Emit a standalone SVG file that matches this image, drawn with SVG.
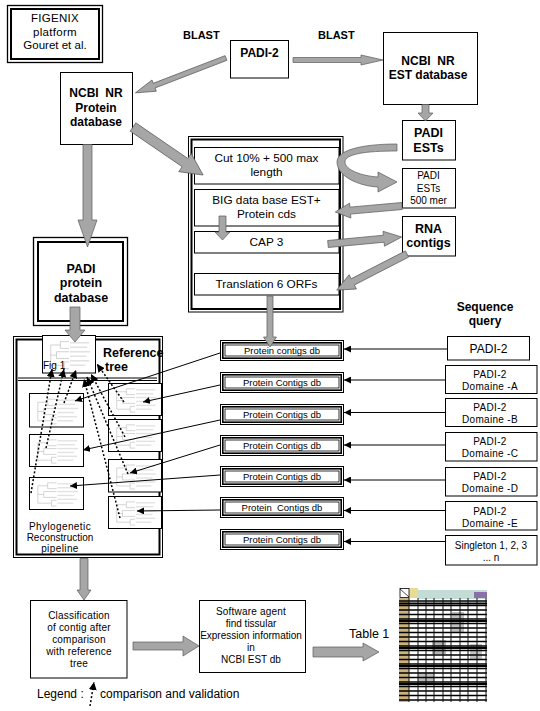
<svg xmlns="http://www.w3.org/2000/svg" width="540" height="711" viewBox="0 0 540 711">
<style>
.t{font-family:"Liberation Sans",Arial,sans-serif;fill:#000}
.b{font-weight:bold}
.box{fill:#fff;stroke:#000;stroke-width:1}
.thick{fill:none;stroke:#000;stroke-width:2}
.dbm{fill:none;stroke:#000;stroke-width:1.6}
.dbi{fill:#fff;stroke:#000;stroke-width:0.8}
.ga{fill:#a6a6a6;stroke:#5a5a5a;stroke-width:0.7}
.ln{stroke:#000;stroke-width:1;fill:none;marker-end:url(#ah)}
.dl{stroke:#000;stroke-width:1.5;fill:none;stroke-dasharray:2 2;marker-end:url(#ahd)}
.sub{fill:#fff;stroke:#000;stroke-width:1}
</style>
<defs>
<marker id="ah" viewBox="0 0 10 10" refX="10" refY="5" markerWidth="7" markerHeight="7" markerUnits="userSpaceOnUse" orient="auto"><path d="M0,0 L10,5 L0,10 z" fill="#000"/></marker>
<marker id="ahd" viewBox="0 0 10 10" refX="10" refY="5" markerWidth="8" markerHeight="8" markerUnits="userSpaceOnUse" orient="auto"><path d="M0,0 L10,5 L0,10 z" fill="#000"/></marker>
<symbol id="thumb" viewBox="0 0 54 32" preserveAspectRatio="none">
<g stroke="#e2e2e2" stroke-width="1.4">
<line x1="28" y1="6" x2="48" y2="6"/><line x1="28" y1="10" x2="46" y2="10"/><line x1="28" y1="14" x2="49" y2="14"/><line x1="28" y1="18" x2="45" y2="18"/><line x1="28" y1="22" x2="48" y2="22"/><line x1="28" y1="26" x2="44" y2="26"/>
</g>
<g stroke="#c9c9c9" stroke-width="0.8" fill="none">
<path d="M8,8 V26 M8,8 H18 M8,17 H14 M8,26 H22 M18,5 V11 M18,5 H27 M18,11 H27 M14,14 V20 M14,14 H27 M14,20 H27 M22,23 V29 M22,23 H27 M22,29 H27"/>
</g>
</symbol>
</defs>

<g id="figenix">
<rect x="7.5" y="5.5" width="95" height="57" fill="#fff" stroke="#000" stroke-width="1.3"/>
<rect x="11" y="9" width="88" height="50" class="thick"/>
<text class="t" x="55" y="22" font-size="11.5" text-anchor="middle" letter-spacing="0.3">FIGENIX</text>
<text class="t" x="55" y="35.5" font-size="11.5" text-anchor="middle" letter-spacing="0.3">platform</text>
<text class="t" x="55" y="49" font-size="11.5" text-anchor="middle">Gouret et al.</text>
</g>

<g id="blast-labels">
<text class="t b" x="183" y="39" font-size="11">BLAST</text>
<text class="t b" x="318" y="39" font-size="11">BLAST</text>
</g>

<g id="padi2-top">
<rect x="230.5" y="40.5" width="58" height="37.5" class="box"/>
<text class="t b" x="259.5" y="57" font-size="12" text-anchor="middle">PADI-2</text>
</g>

<g id="ncbi-est">
<rect x="383.5" y="32.5" width="94" height="72" class="box"/>
<text class="t b" x="428" y="65" font-size="12" text-anchor="middle">NCBI&#160; NR</text>
<text class="t b" x="428" y="79" font-size="12" text-anchor="middle">EST database</text>
</g>

<g id="ncbi-protein">
<rect x="60.5" y="72.5" width="72" height="72" class="box"/>
<text class="t b" x="96" y="97" font-size="12" text-anchor="middle">NCBI&#160; NR</text>
<text class="t b" x="96" y="112" font-size="12" text-anchor="middle">Protein</text>
<text class="t b" x="96" y="126" font-size="12" text-anchor="middle">database</text>
</g>

<g id="padi-ests">
<rect x="402.5" y="120.5" width="53" height="39.5" class="box"/>
<text class="t b" x="428.5" y="137" font-size="12.5" text-anchor="middle">PADI</text>
<text class="t b" x="428.5" y="152" font-size="12.5" text-anchor="middle">ESTs</text>
</g>

<g id="padi-ests-500">
<rect x="402.5" y="168.5" width="53" height="39.5" class="box"/>
<text class="t" x="428.5" y="179" font-size="10" text-anchor="middle">PADI</text>
<text class="t" x="428.5" y="192" font-size="10" text-anchor="middle">ESTs</text>
<text class="t" x="428.5" y="204" font-size="10" text-anchor="middle">500 mer</text>
</g>

<g id="rna-contigs">
<rect x="402.5" y="216.5" width="53" height="39.5" class="box"/>
<text class="t b" x="428.5" y="233" font-size="12.5" text-anchor="middle">RNA</text>
<text class="t b" x="428.5" y="247" font-size="12.5" text-anchor="middle">contigs</text>
</g>

<g id="pipeline-box">
<rect x="188.5" y="136.5" width="154.5" height="175.5" fill="#fff" stroke="#000" stroke-width="1"/>
<rect x="191.5" y="139.5" width="148.5" height="169.5" class="thick"/>
<rect x="194.5" y="147.5" width="144.5" height="36.5" class="box"/>
<text class="t" x="266.5" y="162" font-size="11.8" text-anchor="middle">Cut 10% + 500 max</text>
<text class="t" x="266.5" y="176" font-size="11.8" text-anchor="middle">length</text>
<rect x="194.5" y="189.5" width="144.5" height="36.5" class="box"/>
<text class="t" x="266.5" y="204" font-size="11.8" text-anchor="middle">BIG data base EST+</text>
<text class="t" x="266.5" y="218" font-size="11.8" text-anchor="middle">Protein cds</text>
<rect x="194.5" y="231.5" width="144.5" height="21.5" class="box"/>
<text class="t" x="266.5" y="246" font-size="11.8" text-anchor="middle">CAP 3</text>
<rect x="194.5" y="273.5" width="144.5" height="21.5" class="box"/>
<text class="t" x="266.5" y="288" font-size="11.8" text-anchor="middle">Translation 6 ORFs</text>
</g>

<g id="padi-protein-db">
<rect x="33.5" y="237.5" width="94" height="88" fill="#fff" stroke="#000" stroke-width="1.3"/>
<rect x="38" y="242" width="85" height="79" class="thick"/>
<text class="t b" x="81" y="273" font-size="12.5" text-anchor="middle">PADI</text>
<text class="t b" x="81" y="287" font-size="12.5" text-anchor="middle">protein</text>
<text class="t b" x="81" y="302" font-size="12.5" text-anchor="middle">database</text>
</g>

<g id="sequence-query-label">
<text class="t b" x="485" y="311" font-size="12" text-anchor="middle">Sequence</text>
<text class="t b" x="485" y="325" font-size="12" text-anchor="middle">query</text>
</g>

<g id="phylo-pipeline">
<rect x="13.5" y="336.5" width="149" height="221" fill="#fff" stroke="#000" stroke-width="1"/>
<rect x="16.5" y="339.5" width="143" height="215" class="thick"/>
<line x1="18" y1="378" x2="157" y2="378" stroke="#000" stroke-width="1"/>
<line x1="18" y1="380.5" x2="157" y2="380.5" stroke="#000" stroke-width="1"/>
<text class="t b" x="103" y="357" font-size="12.5">Reference</text>
<text class="t b" x="105" y="371" font-size="12.5">tree</text>
<text class="t" x="60" y="530" font-size="10" text-anchor="middle" letter-spacing="0.4">Phylogenetic</text>
<text class="t" x="60" y="541" font-size="10" text-anchor="middle">Reconstruction</text>
<text class="t" x="60" y="552" font-size="10" text-anchor="middle" letter-spacing="0.4">pipeline</text>
</g>

<g id="fig1">
<rect x="42.5" y="335.5" width="53" height="37.5" class="sub"/>
<use href="#thumb" x="43" y="336" width="52" height="36"/>
<text class="t" x="43" y="369" font-size="10">Fig 1</text>
</g>

<g id="subtrees">
<rect x="29.5" y="393.5" width="54" height="33.5" class="sub"/><use href="#thumb" x="30" y="394" width="53" height="33"/>
<rect x="29.5" y="434.5" width="54" height="32" class="sub"/><use href="#thumb" x="30" y="435" width="53" height="31"/>
<rect x="29.5" y="477.5" width="54" height="32" class="sub"/><use href="#thumb" x="30" y="478" width="53" height="31"/>
<rect x="108.5" y="383.5" width="53" height="32" class="sub"/><use href="#thumb" x="109" y="384" width="52" height="31"/>
<rect x="108.5" y="419.5" width="53" height="32" class="sub"/><use href="#thumb" x="109" y="420" width="52" height="31"/>
<rect x="108.5" y="459.5" width="53" height="32.5" class="sub"/><use href="#thumb" x="109" y="460" width="52" height="32"/>
<rect x="108.5" y="496.5" width="53" height="32" class="sub"/><use href="#thumb" x="109" y="497" width="52" height="31"/>
</g>

<g id="contig-dbs">
<g id="db1"><rect x="220.5" y="340.5" width="123" height="20" class="box"/><rect x="222.8" y="342.8" width="118.4" height="15.4" class="dbm"/><rect x="225" y="345" width="114" height="11" class="dbi"/><text class="t" x="282" y="354" font-size="9.5" text-anchor="middle">Protein contigs db</text></g>
<g id="db2"><rect x="220.5" y="372.5" width="123" height="20" class="box"/><rect x="222.8" y="374.8" width="118.4" height="15.4" class="dbm"/><rect x="225" y="377" width="114" height="11" class="dbi"/><text class="t" x="282" y="386" font-size="9.5" text-anchor="middle">Protein Contigs db</text></g>
<g id="db3"><rect x="220.5" y="404.5" width="123" height="20" class="box"/><rect x="222.8" y="406.8" width="118.4" height="15.4" class="dbm"/><rect x="225" y="409" width="114" height="11" class="dbi"/><text class="t" x="282" y="418" font-size="9.5" text-anchor="middle">Protein Contigs db</text></g>
<g id="db4"><rect x="220.5" y="435.5" width="123" height="20" class="box"/><rect x="222.8" y="437.8" width="118.4" height="15.4" class="dbm"/><rect x="225" y="440" width="114" height="11" class="dbi"/><text class="t" x="282" y="449" font-size="9.5" text-anchor="middle">Protein Contigs db</text></g>
<g id="db5"><rect x="220.5" y="466.5" width="123" height="20" class="box"/><rect x="222.8" y="468.8" width="118.4" height="15.4" class="dbm"/><rect x="225" y="471" width="114" height="11" class="dbi"/><text class="t" x="282" y="480" font-size="9.5" text-anchor="middle">Protein Contigs db</text></g>
<g id="db6"><rect x="220.5" y="497.5" width="123" height="20" class="box"/><rect x="222.8" y="499.8" width="118.4" height="15.4" class="dbm"/><rect x="225" y="502" width="114" height="11" class="dbi"/><text class="t" x="282" y="511" font-size="9.5" text-anchor="middle">Protein&#160; Contigs db</text></g>
<g id="db7"><rect x="220.5" y="529.5" width="123" height="20" class="box"/><rect x="222.8" y="531.8" width="118.4" height="15.4" class="dbm"/><rect x="225" y="534" width="114" height="11" class="dbi"/><text class="t" x="282" y="543" font-size="9.5" text-anchor="middle">Protein Contigs db</text></g>
</g>

<g id="queries">
<g id="q-padi2"><rect x="447.5" y="336.5" width="82" height="23.5" class="box"/><text class="t" x="488.5" y="353" font-size="12" text-anchor="middle">PADI-2</text></g>
<g id="q-a"><rect x="445.5" y="365.5" width="91.5" height="28" class="box"/><text class="t" x="490" y="378" font-size="10" text-anchor="middle" letter-spacing="0.3">PADI-2</text><text class="t" x="490" y="390" font-size="10" text-anchor="middle" letter-spacing="0.3">Domaine -A</text></g>
<g id="q-b"><rect x="445.5" y="398.5" width="91.5" height="28" class="box"/><text class="t" x="490" y="411" font-size="10" text-anchor="middle" letter-spacing="0.3">PADI-2</text><text class="t" x="490" y="423" font-size="10" text-anchor="middle" letter-spacing="0.3">Domaine -B</text></g>
<g id="q-c"><rect x="445.5" y="432.5" width="91.5" height="28.5" class="box"/><text class="t" x="490" y="445" font-size="10" text-anchor="middle" letter-spacing="0.3">PADI-2</text><text class="t" x="490" y="457" font-size="10" text-anchor="middle" letter-spacing="0.3">Domaine -C</text></g>
<g id="q-d"><rect x="445.5" y="467.5" width="91.5" height="28.5" class="box"/><text class="t" x="490" y="480" font-size="10" text-anchor="middle" letter-spacing="0.3">PADI-2</text><text class="t" x="490" y="492" font-size="10" text-anchor="middle" letter-spacing="0.3">Domaine -D</text></g>
<g id="q-e"><rect x="445.5" y="501.5" width="91.5" height="28.5" class="box"/><text class="t" x="490" y="515" font-size="10" text-anchor="middle" letter-spacing="0.3">PADI-2</text><text class="t" x="490" y="527" font-size="10" text-anchor="middle" letter-spacing="0.3">Domaine -E</text></g>
<g id="q-singleton"><rect x="445.5" y="535.5" width="91.5" height="29.5" class="box"/><text class="t" x="491" y="549" font-size="10" text-anchor="middle">Singleton 1, 2, 3</text><text class="t" x="491" y="561" font-size="10" text-anchor="middle">... n</text></g>
</g>

<g id="classification">
<rect x="30.5" y="600.5" width="96.5" height="77.5" class="box"/>
<text class="t" x="79" y="619" font-size="10" text-anchor="middle" letter-spacing="0.2">Classification</text>
<text class="t" x="79" y="631" font-size="10" text-anchor="middle" letter-spacing="0.2">of contig after</text>
<text class="t" x="79" y="643" font-size="10" text-anchor="middle" letter-spacing="0.2">comparison</text>
<text class="t" x="79" y="655" font-size="10" text-anchor="middle" letter-spacing="0.2">with reference</text>
<text class="t" x="79" y="667" font-size="10" text-anchor="middle" letter-spacing="0.2">tree</text>
</g>

<g id="software-agent">
<rect x="199.5" y="600.5" width="106" height="72" class="box"/>
<text class="t" x="251" y="615" font-size="10" text-anchor="middle" letter-spacing="0.2">Software agent</text>
<text class="t" x="251" y="627" font-size="10" text-anchor="middle">find tissular</text>
<text class="t" x="251" y="639" font-size="10" text-anchor="middle">Expression information</text>
<text class="t" x="251" y="651" font-size="10" text-anchor="middle">in</text>
<text class="t" x="251" y="663" font-size="10" text-anchor="middle">NCBI EST db</text>
</g>

<g id="table1">
<text class="t" x="349" y="638" font-size="12.5">Table 1</text>
<rect x="399" y="588" width="88" height="114" fill="#fff"/>
<rect x="418" y="590" width="69" height="9" fill="#c4dcd6"/>
<rect x="409" y="588" width="9" height="10" fill="#e6dc96"/>
<rect x="474" y="592" width="13" height="6" fill="#8a6fa8"/>
<rect x="399" y="598" width="10" height="104" fill="#c9b27e"/>
<rect x="432" y="640" width="14" height="14" fill="#b5b5b5"/>
<rect x="452" y="612" width="12" height="20" fill="#c0c0c0"/>
<rect x="470" y="644" width="12" height="16" fill="#c4c4c4"/>
<rect x="418" y="672" width="16" height="12" fill="#bdbdbd"/>
<path d="M399,601h88M399,605.5h88M399,610h88M399,614.5h88M399,619h88M399,623.5h88M399,628h88M399,632.5h88M399,637h88M399,641.5h88M399,646h88M399,650.5h88M399,655h88M399,659.5h88M399,664h88M399,668.5h88M399,673h88M399,677.5h88M399,682h88M399,686.5h88M399,691h88M399,695.5h88M399,700h88" stroke="#000" stroke-width="1.3"/>
<path d="M409,598v104M418,598v104M426,598v104M434,598v104M443,598v104M451,598v104M460,598v104M468,598v104M477,598v104M486,598v104" stroke="#111" stroke-width="1"/>
<path d="M399,603.5h88M399,621h88M399,648h88M399,666h88M399,684h88" stroke="#000" stroke-width="2"/>
<rect x="400" y="588.5" width="9" height="9" fill="#fff" stroke="#000" stroke-width="0.8"/>
<line x1="400" y1="589" x2="409" y2="597" stroke="#000" stroke-width="0.7"/>
</g>

<g id="legend">
<text class="t" x="37" y="698" font-size="12">Legend :</text>
<line x1="90" y1="706" x2="94" y2="682" class="dl"/>
<text class="t" x="100" y="698" font-size="12">comparison and validation</text>
</g>

<g id="connectors">
<polygon class="ga" points="0,-2.5 77,-2.5 77,-6 97,0 77,6 77,2.5 0,2.5" transform="translate(226 58) rotate(158.96)"/>
<polygon class="ga" points="293,57.5 361,57.5 361,55 383,60 361,65 361,62.5 293,62.5"/>
<polygon class="ga" points="422,104.5 429,104.5 429,113 433,113 425.5,121 418,113 422,113"/>
<polygon class="ga" points="0,-5 63,-5 63,-11 85,0 63,11 63,5 0,5" transform="translate(133 127) rotate(34.4)"/>
<polygon class="ga" points="83,144.5 92,144.5 92,220 97,220 87.5,247 78,220 83,220"/>
<path class="ga" d="M397,144 C362,144 337,150 337,162 C337,176 358,186 378,187 L378,192 L397,182 L378,172 L378,177 C362,176 345,170 345,162 C345,154 365,151 397,151 Z"/>
<polygon class="ga" points="0,-3.5 52,-3.5 52,-7.5 67,0 52,7.5 52,3.5 0,3.5" transform="translate(402 206) rotate(174.9)"/>
<polygon class="ga" points="0,-3.5 56,-3.5 56,-7.5 74,0 56,7.5 56,3.5 0,3.5" transform="translate(328 244) rotate(-5.4)"/>
<polygon class="ga" points="0,-3.5 61,-3.5 61,-8 79,0 61,8 61,3.5 0,3.5" transform="translate(407 254) rotate(152.8)"/>
<polygon class="ga" points="219,216 226,216 226,232 230,232 222.5,240 215,232 219,232"/>
<polygon class="ga" points="267,296 273,296 273,337 276.5,337 270,347 263.5,337 267,337"/>
<polygon class="ga" points="70,307 80,307 80,330 85,330 75,342 65,330 70,330"/>
<polygon class="ga" points="80,558.5 88,558.5 88,590 91,590 84,600 77,590 80,590"/>
<polygon class="ga" points="133,642 183,642 183,636 199,646 183,656 183,650 133,650"/>
<polygon class="ga" points="313,647 363,647 363,643 379,652 363,661 363,657 313,657"/>
<line class="ln" x1="447" y1="349" x2="344" y2="349"/>
<line class="ln" x1="445" y1="380" x2="344" y2="380"/>
<line class="ln" x1="445" y1="412.5" x2="344" y2="412.5"/>
<line class="ln" x1="445" y1="445" x2="344" y2="445"/>
<line class="ln" x1="445" y1="480" x2="344" y2="480"/>
<line class="ln" x1="445" y1="510.5" x2="344" y2="510.5"/>
<line class="ln" x1="445" y1="541.5" x2="344" y2="541.5"/>
<line class="ln" x1="220" y1="353" x2="75" y2="401"/>
<line class="ln" x1="220" y1="385" x2="143" y2="402"/>
<line class="ln" x1="220" y1="420" x2="83" y2="450"/>
<line class="ln" x1="220" y1="445" x2="130" y2="473"/>
<line class="ln" x1="220" y1="475" x2="70" y2="486"/>
<line class="ln" x1="220" y1="510" x2="137" y2="511"/>
<line class="dl" x1="31" y1="493" x2="52" y2="369"/>
<line class="dl" x1="46" y1="448" x2="64" y2="369"/>
<line class="dl" x1="64" y1="403" x2="76" y2="370"/>
<line class="dl" x1="124" y1="402" x2="97" y2="364"/>
<line class="dl" x1="125" y1="437" x2="91" y2="374"/>
<line class="dl" x1="128" y1="474" x2="87" y2="377"/>
<line class="dl" x1="120" y1="518" x2="84" y2="379"/>
</g>
</svg>
